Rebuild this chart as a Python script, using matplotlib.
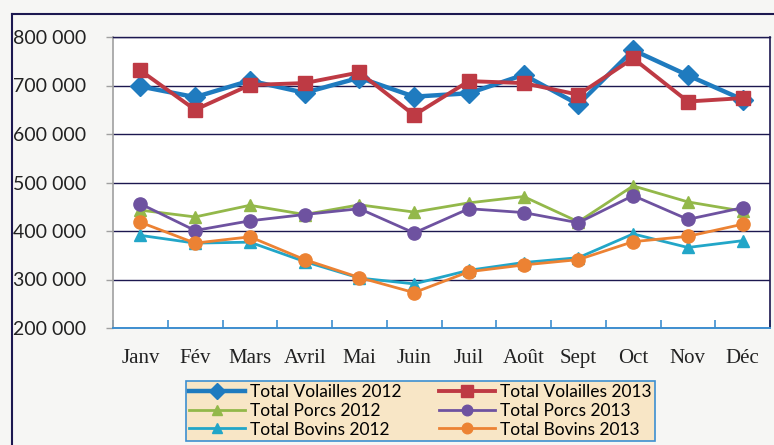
import matplotlib
matplotlib.use("Agg")
import matplotlib.pyplot as plt
from matplotlib.lines import Line2D
from matplotlib.ticker import FuncFormatter, FixedLocator

months = ["Janv", "Fév", "Mars", "Avril", "Mai", "Juin", "Juil", "Août", "Sept", "Oct", "Nov", "Déc"]

volailles_2012 = [698000, 676000, 710000, 685000, 716000, 677000, 684000, 722000, 661000, 773000, 721000, 671000]
volailles_2013 = [731000, 650000, 701000, 705000, 727000, 639000, 709000, 705000, 681000, 756000, 667000, 674000]
porcs_2012 = [443000, 429000, 453000, 434000, 454000, 439000, 458000, 471000, 419000, 493000, 460000, 441000]
porcs_2013 = [456000, 401000, 421000, 434000, 446000, 396000, 446000, 438000, 417000, 473000, 424000, 448000]
bovins_2012 = [391000, 375000, 377000, 337000, 303000, 291000, 319000, 335000, 345000, 394000, 366000, 380000]
bovins_2013 = [418000, 375000, 388000, 341000, 304000, 273000, 316000, 330000, 341000, 378000, 389000, 414000]

series = [
    ("Total Volailles 2012", volailles_2012, "#1f7bbf", "D", 3.2, 10),
    ("Total Volailles 2013", volailles_2013, "#be3a44", "s", 2.8, 10),
    ("Total Porcs 2012", porcs_2012, "#93b84a", "^", 2.0, 9),
    ("Total Porcs 2013", porcs_2013, "#6e52a0", "o", 2.0, 9.5),
    ("Total Bovins 2012", bovins_2012, "#22a6c8", "^", 2.0, 9),
    ("Total Bovins 2013", bovins_2013, "#ec8233", "o", 2.0, 9.5),
]

fig = plt.figure(figsize=(7.74, 4.45), dpi=100, facecolor="#f6f6f4")
ax = fig.add_axes([113 / 774, 1 - 328 / 445, (770 - 113) / 774, (328 - 37) / 445])
ax.set_facecolor("white")

x = list(range(len(months)))
handles = []
for name, vals, col, mk, lw, ms in series:
    h, = ax.plot(x, vals, color=col, marker=mk, lw=lw, ms=ms, label=name, zorder=3)
    handles.append(h)

ax.set_xlim(-0.5, len(months) - 0.5)
ax.set_ylim(200000, 800000)
ax.yaxis.set_major_locator(FixedLocator([200000, 300000, 400000, 500000, 600000, 700000, 800000]))
ax.yaxis.set_major_formatter(FuncFormatter(lambda v, p: f"{int(v):,}".replace(",", " ")))
ax.grid(axis="y", color="#1c1850", lw=1.0, zorder=1)

ax.set_xticks(x)
ax.set_xticklabels(months, family="Liberation Serif", fontsize=15, color="#222222")
ax.set_xticks([i - 0.5 for i in range(len(months) + 1)], minor=True)
ax.tick_params(axis="x", which="major", length=0, pad=15)
ax.tick_params(axis="x", which="minor", length=6, color="#3d8fd0", width=1.2, direction="in")
ax.tick_params(axis="y", length=5, color="#a0a0a0", width=1.0, pad=14, labelsize=14, labelcolor="#222222")
for lbl in ax.get_yticklabels():
    lbl.set_family("Lato")

ax.spines["left"].set_color("#a0a0a0")
ax.spines["left"].set_linewidth(1.2)
ax.spines["bottom"].set_color("#3d8fd0")
ax.spines["bottom"].set_linewidth(1.4)
ax.spines["right"].set_color("#1c1850")
ax.spines["right"].set_linewidth(1.2)
ax.spines["top"].set_color("#1c1850")
ax.spines["top"].set_linewidth(1.0)

# outer frame lines
fig.add_artist(Line2D([12 / 774, 1], [1 - 14 / 445, 1 - 14 / 445], color="#1c1850", lw=1.5, transform=fig.transFigure))
fig.add_artist(Line2D([12 / 774, 12 / 774], [0, 1 - 14 / 445], color="#1c1850", lw=1.5, transform=fig.transFigure))

# legend fills column-wise; order handles so rows read 2012 | 2013
order = [0, 2, 4, 1, 3, 5]
leg = fig.legend(handles=[handles[i] for i in order], ncol=2, loc="lower left",
                 bbox_to_anchor=(186 / 774, 4 / 445, (655 - 186) / 774, (441 - 372) / 445),
                 mode="expand", frameon=True, fancybox=False, markerscale=0.8,
                 handlelength=3.2, handletextpad=0.3, columnspacing=0.6,
                 labelspacing=0.15, borderpad=0.2, borderaxespad=0, prop={"family": "Lato", "size": 12.5})
leg.get_frame().set_facecolor("#f8e6c6")
leg.get_frame().set_edgecolor("#3d8fd0")
leg.get_frame().set_linewidth(1.2)
leg.get_frame().set_alpha(1)

fig.savefig("out.png", dpi=100, facecolor=fig.get_facecolor())
